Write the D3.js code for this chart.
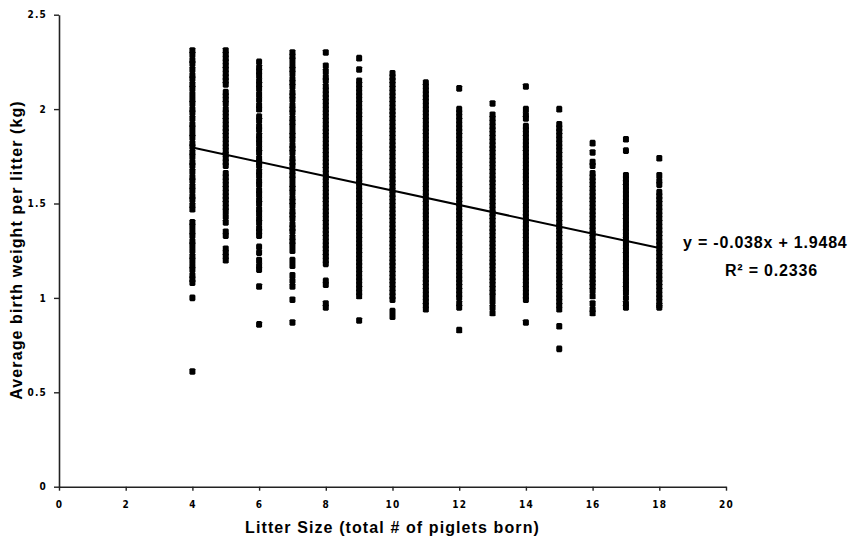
<!DOCTYPE html>
<html><head><meta charset="utf-8">
<script src="https://cdn.jsdelivr.net/npm/d3@7"></script>
<style>body{margin:0;background:#fff}</style>
</head><body>
<svg id="chart" width="866" height="542"></svg>
<script>
// ---- data ----
const litterSizes = [4,5,6,7,8,9,10,11,12,13,14,15,16,17,18];
const weights4 = [2.31,2.29,2.26,2.24,2.21,2.18,2.16,2.13,2.11,2.08,2.05,2.03,2.00,1.98,1.95,1.92,1.90,1.87,1.85,1.82,1.80,1.77,1.75,1.72,1.70,1.67,1.64,1.62,1.59,1.57,1.54,1.52,1.49,1.47,1.40,1.38,1.35,1.33,1.30,1.28,1.25,1.22,1.20,1.17,1.15,1.12,1.10,1.08,1.00,0.61];
const weights5 = [2.31,2.29,2.27,2.25,2.23,2.21,2.19,2.17,2.15,2.13,2.09,2.07,2.05,2.03,2.00,1.98,1.96,1.94,1.92,1.90,1.88,1.86,1.84,1.82,1.80,1.78,1.76,1.74,1.72,1.70,1.66,1.64,1.62,1.60,1.58,1.56,1.54,1.52,1.50,1.48,1.46,1.43,1.40,1.35,1.33,1.26,1.24,1.22,1.20];
const weights6 = [2.25,2.22,2.20,2.18,2.15,2.13,2.11,2.08,2.05,2.02,2.00,1.96,1.94,1.91,1.89,1.86,1.84,1.82,1.79,1.77,1.74,1.72,1.70,1.67,1.65,1.62,1.60,1.57,1.55,1.52,1.50,1.47,1.45,1.42,1.40,1.37,1.35,1.33,1.27,1.24,1.20,1.17,1.15,1.06,0.86];
const weights7 = [2.30,2.28,2.26,2.23,2.21,2.19,2.16,2.14,2.12,2.09,2.07,2.05,2.02,2.00,1.98,1.95,1.93,1.91,1.88,1.86,1.84,1.81,1.79,1.77,1.74,1.72,1.70,1.67,1.65,1.63,1.60,1.58,1.56,1.53,1.51,1.49,1.46,1.44,1.42,1.39,1.37,1.35,1.32,1.30,1.28,1.25,1.20,1.17,1.12,1.09,1.06,0.99,0.87];
const weights8 = [2.30,2.23,2.20,2.17,2.15,2.12,2.10,2.08,2.06,2.04,2.02,2.00,1.98,1.96,1.94,1.92,1.90,1.88,1.86,1.84,1.82,1.80,1.78,1.76,1.74,1.72,1.70,1.68,1.66,1.64,1.62,1.60,1.58,1.56,1.54,1.52,1.50,1.48,1.46,1.44,1.42,1.40,1.38,1.36,1.34,1.32,1.30,1.28,1.26,1.24,1.22,1.20,1.18,1.09,1.07,0.97,0.95];
const weights9 = [2.27,2.21,2.15,2.13,2.11,2.09,2.07,2.05,2.03,2.01,1.99,1.97,1.95,1.93,1.91,1.89,1.87,1.85,1.83,1.81,1.79,1.77,1.75,1.73,1.71,1.69,1.67,1.65,1.63,1.61,1.59,1.57,1.55,1.53,1.51,1.49,1.47,1.45,1.43,1.41,1.39,1.37,1.35,1.33,1.31,1.29,1.27,1.25,1.23,1.21,1.19,1.17,1.15,1.13,1.11,1.09,1.07,1.05,1.03,1.01,0.88];
const weights10 = [2.19,2.17,2.15,2.13,2.11,2.09,2.07,2.05,2.03,2.01,1.99,1.97,1.95,1.93,1.91,1.89,1.87,1.85,1.83,1.81,1.79,1.77,1.75,1.73,1.71,1.69,1.67,1.65,1.63,1.61,1.59,1.57,1.55,1.53,1.51,1.49,1.47,1.45,1.43,1.41,1.39,1.37,1.35,1.33,1.31,1.29,1.27,1.25,1.23,1.21,1.19,1.17,1.15,1.13,1.11,1.09,1.07,1.05,1.03,1.01,0.99,0.93,0.90];
const weights11 = [2.14,2.12,2.10,2.08,2.06,2.04,2.02,2.00,1.98,1.96,1.94,1.92,1.90,1.88,1.86,1.84,1.82,1.80,1.78,1.76,1.74,1.72,1.70,1.68,1.66,1.64,1.62,1.60,1.58,1.56,1.54,1.52,1.50,1.48,1.46,1.44,1.42,1.40,1.38,1.36,1.34,1.32,1.30,1.28,1.26,1.24,1.22,1.20,1.18,1.16,1.14,1.12,1.10,1.08,1.06,1.04,1.02,1.00,0.98,0.96,0.94];
const weights12 = [2.11,2.00,1.98,1.96,1.94,1.92,1.90,1.88,1.86,1.84,1.82,1.80,1.78,1.76,1.74,1.72,1.70,1.68,1.66,1.64,1.62,1.60,1.58,1.56,1.54,1.52,1.50,1.48,1.46,1.44,1.42,1.40,1.38,1.36,1.34,1.32,1.30,1.28,1.26,1.24,1.22,1.20,1.18,1.16,1.14,1.12,1.10,1.08,1.06,1.04,1.02,1.00,0.97,0.95,0.83];
const weights13 = [2.03,1.97,1.95,1.93,1.91,1.89,1.87,1.85,1.83,1.81,1.79,1.77,1.75,1.73,1.71,1.69,1.67,1.65,1.63,1.61,1.59,1.57,1.55,1.53,1.51,1.49,1.47,1.45,1.43,1.41,1.39,1.37,1.35,1.33,1.31,1.29,1.27,1.25,1.23,1.21,1.19,1.17,1.15,1.13,1.11,1.09,1.07,1.05,1.03,1.01,0.98,0.95,0.92];
const weights14 = [2.12,2.00,1.97,1.95,1.91,1.89,1.87,1.85,1.83,1.81,1.79,1.77,1.75,1.73,1.71,1.69,1.67,1.65,1.63,1.61,1.59,1.57,1.55,1.53,1.51,1.49,1.47,1.45,1.43,1.41,1.39,1.37,1.35,1.33,1.31,1.29,1.27,1.25,1.23,1.21,1.19,1.17,1.15,1.13,1.11,1.09,1.07,1.05,1.03,1.01,0.99,0.87];
const weights15 = [2.00,1.92,1.90,1.88,1.86,1.84,1.82,1.80,1.78,1.76,1.74,1.72,1.70,1.68,1.66,1.64,1.62,1.60,1.58,1.56,1.54,1.52,1.50,1.48,1.46,1.44,1.42,1.40,1.38,1.36,1.34,1.32,1.30,1.28,1.26,1.24,1.22,1.20,1.18,1.16,1.14,1.12,1.10,1.08,1.06,1.04,1.02,1.00,0.98,0.96,0.94,0.85,0.73];
const weights16 = [1.82,1.77,1.72,1.70,1.66,1.64,1.62,1.60,1.58,1.56,1.54,1.52,1.50,1.48,1.46,1.44,1.42,1.40,1.38,1.36,1.34,1.32,1.30,1.28,1.26,1.24,1.22,1.20,1.18,1.16,1.14,1.12,1.10,1.08,1.06,1.04,1.01,0.97,0.94,0.92];
const weights17 = [1.84,1.78,1.65,1.63,1.61,1.59,1.57,1.55,1.53,1.51,1.49,1.47,1.45,1.43,1.41,1.39,1.37,1.35,1.33,1.31,1.29,1.27,1.25,1.23,1.21,1.19,1.17,1.15,1.13,1.11,1.09,1.07,1.05,1.03,1.00,0.97,0.95];
const weights18 = [1.74,1.65,1.62,1.60,1.56,1.54,1.52,1.50,1.48,1.46,1.44,1.42,1.40,1.38,1.36,1.34,1.32,1.30,1.28,1.26,1.24,1.22,1.20,1.18,1.16,1.14,1.12,1.10,1.08,1.06,1.04,1.02,1.00,0.98,0.96,0.95];

const xTicks = [0,2,4,6,8,10,12,14,16,18,20];
const yTicks = [0,0.5,1,1.5,2,2.5];
const yTickLabels = ["0","0.5","1","1.5","2","2.5"];
const trendSlope = -0.038;
const trendIntercept = 1.9484;
const trendRange = [4,18];
const equationLabel = "y = -0.038x + 1.9484";
const r2Label = "R² = 0.2336";
const xTitle = "Litter Size (total # of piglets born)";
const yTitle = "Average birth weight per litter (kg)";

// ---- drawing ----
const columns = [weights4,weights5,weights6,weights7,weights8,weights9,weights10,weights11,weights12,weights13,weights14,weights15,weights16,weights17,weights18];
const points = [];
columns.forEach((col,i)=>col.forEach(v=>points.push({x:litterSizes[i], y:v})));

const svg = d3.select("#chart");
const x = d3.scaleLinear().domain([0,20]).range([59,726]);
const y = d3.scaleLinear().domain([0,2.5]).range([486.7,14.7]);

const tickFont = '"Liberation Sans Narrow","DejaVu Sans Condensed",sans-serif';

const xAxis = svg.append("g").attr("transform",`translate(0,${y(0)})`)
  .call(d3.axisBottom(x).tickValues(xTicks).tickSize(4).tickSizeOuter(0).tickPadding(10).tickFormat(d=>String(d)));
const yAxis = svg.append("g").attr("transform",`translate(${x(0)},0)`)
  .call(d3.axisLeft(y).tickValues(yTicks).tickSize(5).tickSizeOuter(0).tickPadding(7).tickFormat((d,i)=>yTickLabels[i]));
[xAxis,yAxis].forEach(g=>{
  g.select(".domain").attr("stroke","#222").attr("stroke-width",1.6);
  g.selectAll(".tick line").attr("stroke","#222").attr("stroke-width",1.4);
  g.selectAll(".tick text").attr("fill","#000").style("font-family",tickFont)
    .style("font-weight","bold").style("font-size","10px").style("letter-spacing","1.2px");
});

// points (rounded-square markers, ~6px)
const marker = "M-2,-3.3L2,-3.3L3,-2.2L3,2.2L2,3.3L-2,3.3L-3,2.2L-3,-2.2Z";
svg.append("g").selectAll("path").data(points).join("path")
  .attr("d",marker)
  .attr("transform",d=>`translate(${x(d.x)},${y(d.y)})`)
  .attr("fill","#000");

// trendline
svg.append("line")
  .attr("x1",x(trendRange[0])).attr("y1",y(trendSlope*trendRange[0]+trendIntercept))
  .attr("x2",x(trendRange[1])).attr("y2",y(trendSlope*trendRange[1]+trendIntercept))
  .attr("stroke","#000").attr("stroke-width",2);

const titleFont = '"Liberation Sans",Arial,sans-serif';
function bold(sel, size, ls){
  return sel.style("font-family",titleFont).style("font-weight","bold")
    .style("font-size",size+"px").style("letter-spacing",ls+"px");
}
bold(svg.append("text").attr("x",683).attr("y",248).text(equationLabel),16,0.8);
bold(svg.append("text").attr("x",725).attr("y",276).text(r2Label),16,0.8);

bold(svg.append("text").attr("x",(x(0)+x(20))/2).attr("y",533).attr("text-anchor","middle").text(xTitle),16,1.1);
bold(svg.append("text").attr("transform","translate(22,250) rotate(-90)").attr("text-anchor","middle").text(yTitle),16,1.1);
</script>
</body></html>
